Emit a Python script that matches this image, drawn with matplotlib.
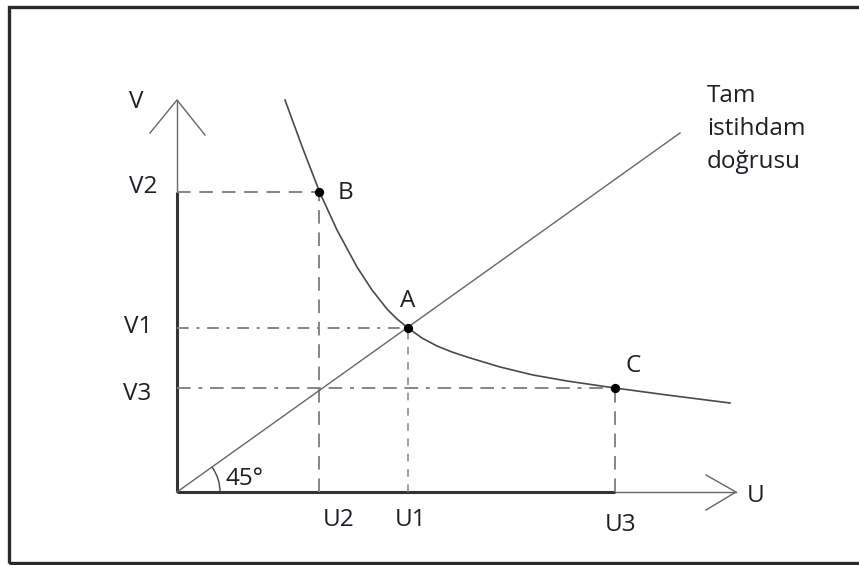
import matplotlib
matplotlib.use("Agg")
import matplotlib.pyplot as plt
from matplotlib.patches import Arc, Rectangle

# Beveridge curve (values in diagram units, origin at 0,0)
curve_u = [1.08, 1.26, 1.43, 1.60, 1.80, 1.95, 2.10, 2.20, 2.31, 2.45, 2.60, 2.75, 2.90, 3.23, 3.56, 3.90, 4.38, 4.90, 5.53]
curve_v = [3.92, 3.43, 2.99, 2.62, 2.25, 2.02, 1.83, 1.73, 1.64, 1.54, 1.46, 1.40, 1.35, 1.25, 1.17, 1.11, 1.04, 0.97, 0.89]

point_names = ["B", "A", "C"]
point_u = [1.42, 2.31, 4.38]
point_v = [3.00, 1.64, 1.04]

u_labels = ["U2", "U1", "U3"]
v_labels = ["V2", "V1", "V3"]

# full employment line (45 degrees)
line_u = [0.0, 5.03]
line_v = [0.0, 3.59]

u_axis_end = 5.59
v_axis_end = 3.92

fig = plt.figure(figsize=(8.59, 5.65), dpi=100)
ax = fig.add_axes([0, 0, 1, 1])
ax.set_xlim(-1.77, 6.82)
ax.set_ylim(-0.73, 4.92)
ax.set_aspect("equal")
ax.axis("off")

txt = dict(family="Open Sans", fontsize=17.5, color="#1e1e26")
grey = "#858585"

# outer frame (right edge is cut off in the picture)
fig.patches.append(Rectangle((9 / 859, 2 / 565), 1.2, 556 / 565, transform=fig.transFigure,
                             fill=False, lw=2.4, ec="#2a2a2a"))

# axes: thin full length with open arrowheads, thick part up to V2 / U3
ax.plot([0, 0], [0, v_axis_end], color="#666666", lw=1.0)
ax.plot([0, u_axis_end], [0, 0], color="#666666", lw=1.0)
ax.plot([0, 0], [0, point_v[0]], color="#333333", lw=2.2, solid_capstyle="butt")
ax.plot([0, point_u[2]], [0, 0], color="#333333", lw=2.2, solid_capstyle="butt")
ax.plot([-0.27, 0, 0.28], [v_axis_end - 0.33, v_axis_end, v_axis_end - 0.35], color="#666666", lw=1.0)
ax.plot([u_axis_end - 0.30, u_axis_end, u_axis_end - 0.30], [0.17, 0, -0.18], color="#666666", lw=1.0)

# guide lines
dash = (0, (7, 4.5))
dashdot = (0, (6, 4, 1.5, 4))
ax.plot([0, point_u[0]], [point_v[0], point_v[0]], color=grey, lw=1.4, ls=dash)
ax.plot([point_u[0], point_u[0]], [0, point_v[0]], color=grey, lw=1.4, ls=dash)
ax.plot([0, point_u[1]], [point_v[1], point_v[1]], color=grey, lw=1.4, ls=dashdot)
ax.plot([point_u[1], point_u[1]], [0, point_v[1]], color=grey, lw=1.1, ls=(0, (5, 5)))
ax.plot([0, point_u[2]], [point_v[2], point_v[2]], color=grey, lw=1.4, ls=(0, (7, 4, 2, 4, 7, 4, 7, 4)))
ax.plot([point_u[2], point_u[2]], [0, point_v[2]], color=grey, lw=1.4, ls=dash)

# full employment line and curve
ax.plot(line_u, line_v, color="#666666", lw=1.0)
ax.plot(curve_u, curve_v, color="#4a4a4a", lw=1.2)
ax.scatter(point_u, point_v, s=32, color="black", zorder=5)

# 45 degree arc
ax.add_patch(Arc((0, 0), 0.86, 0.86, theta1=0, theta2=35.5, color="#444444", lw=1.0))
ax.text(0.68, 0.07, "45°", ha="center", va="baseline", **txt)

# labels
for name, u, v, du, dv in zip(point_names, point_u, point_v, [0.26, 0.0, 0.18], [-0.07, 0.21, 0.16]):
    ax.text(u + du, v + dv, name, ha="center", va="baseline", **txt)
for lab, u, du, y in zip(u_labels, point_u, [0.20, 0.03, 0.06], [-0.34, -0.34, -0.39]):
    ax.text(u + du, y, lab, ha="center", va="baseline", **txt)
for lab, x, y in zip(v_labels, [-0.34, -0.39, -0.40], [2.99, 1.59, 0.92]):
    ax.text(x, y, lab, ha="center", va="baseline", **txt)
ax.text(-0.41, 3.84, "V", ha="center", va="baseline", **txt)
ax.text(5.79, -0.10, "U", ha="center", va="baseline", **txt)
for word, y in zip(["Tam", "istihdam", "doğrusu"], [3.90, 3.57, 3.24]):
    ax.text(5.30, y, word, ha="left", va="baseline", **txt)

fig.savefig("out.png", dpi=100)
